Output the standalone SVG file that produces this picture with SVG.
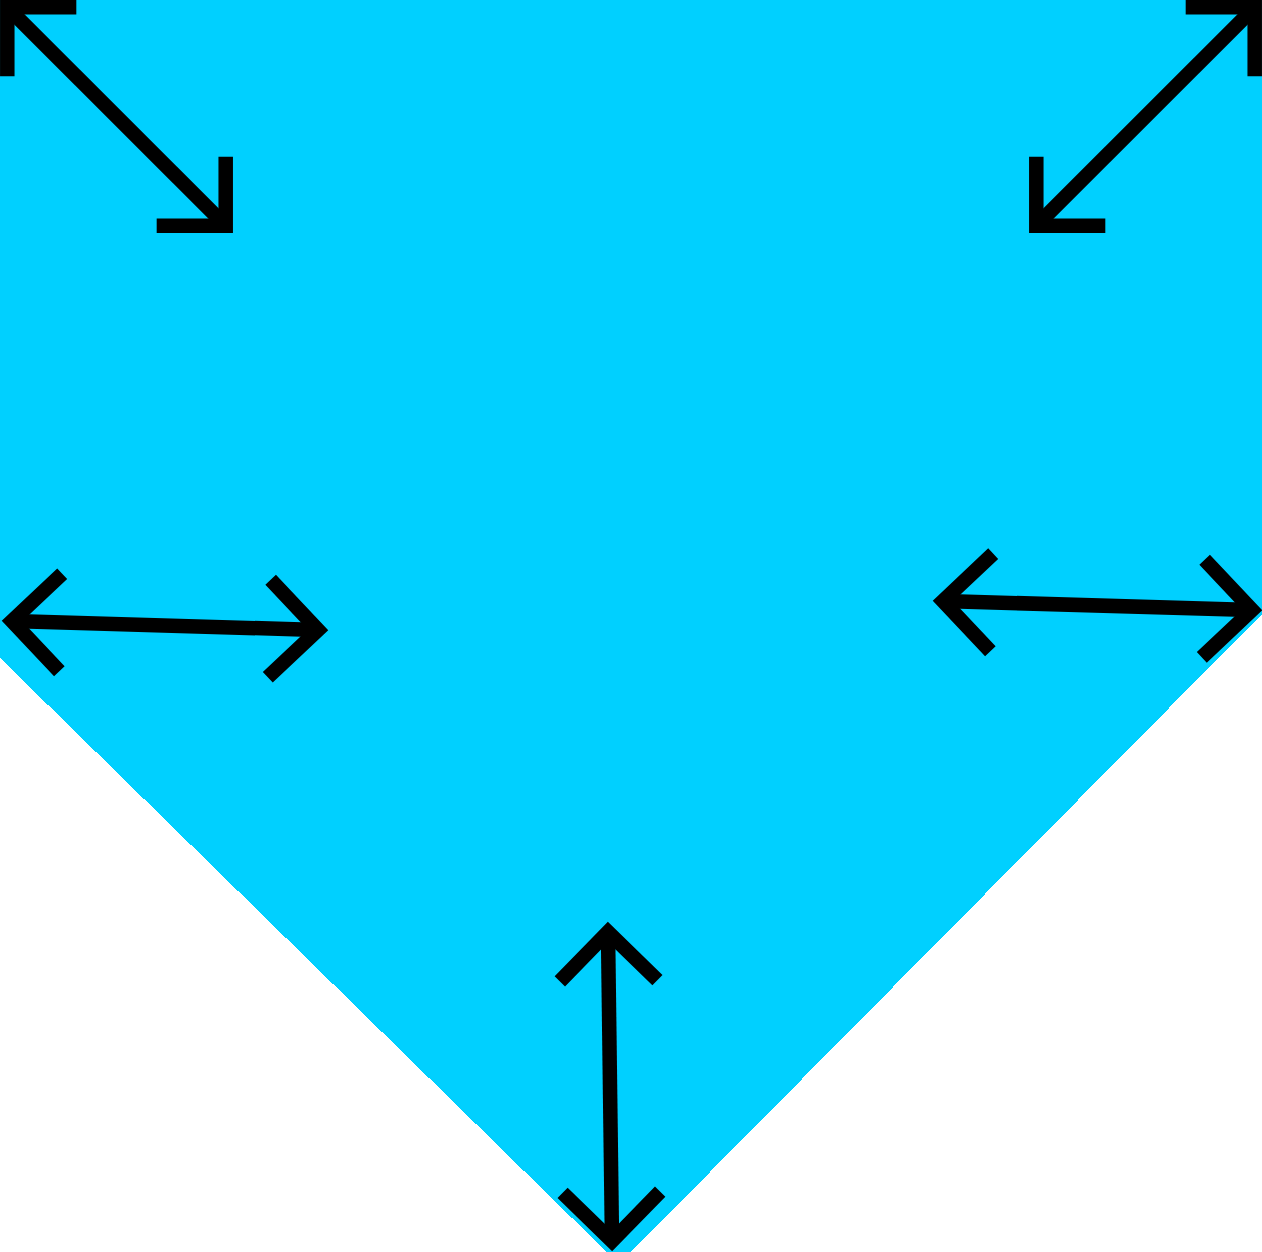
<svg xmlns="http://www.w3.org/2000/svg" width="1262" height="1252" viewBox="0 0 1262 1252">
<style>
.bg{fill:#00d0ff;stroke:none}
.arrow{fill:none;stroke:#000;stroke-width:14.5;stroke-linejoin:miter;stroke-miterlimit:10;marker-start:url(#head);marker-end:url(#head)}
</style>
<defs>
<marker id="head" markerUnits="userSpaceOnUse" orient="auto-start-reverse" viewBox="-70 -70 100 140" refX="0" refY="0" markerWidth="100" markerHeight="140" overflow="visible">
<path d="M-48.8,-48.8 L0,0 L-48.8,48.8" fill="none" stroke="#000" stroke-width="14.5" stroke-linejoin="miter" stroke-miterlimit="10"/>
</marker>
</defs>
<g id="shape">
<polygon class="bg" shape-rendering="crispEdges" points="0,0 1262,0 1262,614 619,1264 0,658"/>
</g>
<g id="connectors">
<path id="a-topleft" class="arrow" d="M7.3,7.3 L225.7,225.7"/>
<path id="a-topright" class="arrow" d="M1254.7,7.3 L1036.3,225.7"/>
<path id="a-left" class="arrow" d="M12,621 L318,630"/>
<path id="a-right" class="arrow" d="M943,601 L1252,610"/>
<path id="a-bottom" class="arrow" d="M608,932 L612,1241"/>
</g>
</svg>
